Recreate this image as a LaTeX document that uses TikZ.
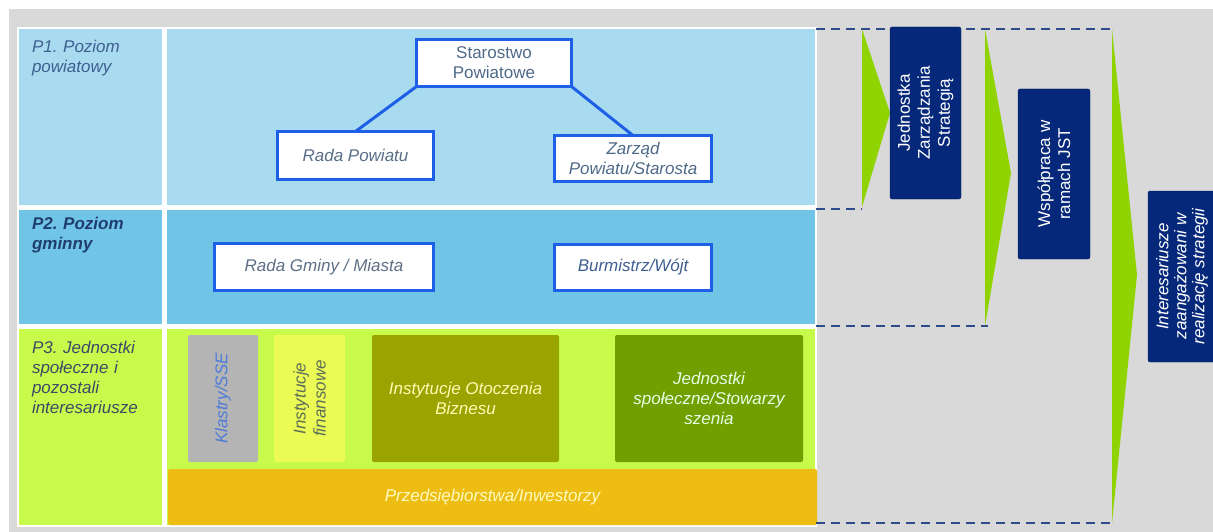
\documentclass[tikz,border=0pt]{standalone}
\usepackage{fontspec}
\setmainfont{Liberation Sans}
\usetikzlibrary{positioning}
\frenchspacing
\newcommand{\dfont}{\fontsize{17}{20}\selectfont}
\definecolor{bggray}{HTML}{D9D9D9}
\definecolor{pone}{HTML}{A9DBF0}
\definecolor{ptwo}{HTML}{70C5E6}
\definecolor{pthree}{HTML}{C8FA4B}
\definecolor{klgray}{HTML}{B4B4B4}
\definecolor{finyellow}{HTML}{EBFA55}
\definecolor{olivebox}{HTML}{99A400}
\definecolor{greenbox}{HTML}{70A000}
\definecolor{orangebar}{HTML}{EDBD13}
\definecolor{navy}{HTML}{06287A}
\definecolor{arrowgreen}{HTML}{8FD400}
\definecolor{dashblue}{HTML}{2D4A8A}
\definecolor{boxblue}{HTML}{1E5FE8}
\definecolor{txtgray}{HTML}{4F6A88}
\definecolor{lbltext}{HTML}{3F5F90}
\definecolor{lbltwo}{HTML}{1F3D6E}
\definecolor{lblthree}{HTML}{3C4A66}
\definecolor{kltext}{HTML}{4C7BD8}
\definecolor{fintext}{HTML}{5C6E58}
\begin{document}
\begin{tikzpicture}[x=1pt, y=-1pt,
        every node/.style={font=\dfont, inner sep=0pt, outer sep=0pt},
        bx/.style={draw=boxblue, line width=3pt, fill=white, align=center, text=txtgray},
        blk/.style={rounded corners=2pt, align=center, font=\dfont\itshape},
        nv/.style={fill=navy, draw=navy!80!black, rounded corners=2pt, text=white, align=center, rotate=90},
        lbl/.style={anchor=north west, text width=128pt, align=left, font=\dfont\itshape, text=lbltext},
        e/.style={draw=boxblue, line width=3pt},
        ds/.style={draw=dashblue, line width=2.5pt, dash pattern=on 9pt off 6pt}]
        \useasboundingbox (0,0) rectangle (1213,532);
        \clip (0,0) rectangle (1213,532);
        \fill[white] (0,0) rectangle (1213,532);
        \fill[bggray] (9,9) rectangle (1213,532);
        \fill[white] (17,27) rectangle (817,527);

        \foreach \t/\b/\c in {29/205/pone, 210/324/ptwo, 329/525/pthree}
        {\fill[\c] (19,\t) rectangle (162,\b); \fill[\c] (167,\t) rectangle (815,\b);}

        \node[lbl] (l1) at (32,40) {P1. Poziom\\powiatowy};
        \node[lbl, font=\dfont\bfseries\itshape, text=lbltwo] (l2) at (32,217) {P2. Poziom\\gminny};
        \node[lbl, text=lblthree] (l3) at (32,341) {P3. Jednostki\\społeczne i\\pozostali\\interesariusze};

        \node[bx, minimum width=155pt, minimum height=47pt] (star) at (494,63) {Starostwo\\Powiatowe};
        \node[bx, font=\dfont\itshape, text=txtgray!80!gray, minimum width=156pt, minimum height=48pt] (rada) at (355.5,155.5) {Rada Powiatu};
        \node[bx, font=\dfont\itshape, minimum width=157pt, minimum height=46pt] (zarzad) at (633,158.5) {Zarząd\\Powiatu/Starosta};
        \draw[e] (star.south west) -- (rada.north);
        \draw[e] (star.south east) -- (zarzad.north);

        \node[bx, font=\dfont\itshape, text=txtgray!70!gray, minimum width=219pt, minimum height=47pt] (gmina) at (324,267) {Rada Gminy / Miasta};
        \node[bx, font=\dfont\itshape, text=lbltext, minimum width=157pt, minimum height=46pt] (burm) at (633,267.5) {Burmistrz/Wójt};

        \node[blk, fill=klgray, text=kltext, rotate=90, minimum width=127pt, minimum height=70pt] (klastry) at (223,398.5) {Klastry/SSE};
        \node[blk, fill=finyellow, text=fintext, rotate=90, minimum width=127pt, minimum height=71pt] (finanse) at (309.5,398.5) {Instytucje\\finansowe};
        \node[blk, fill=olivebox, text=yellow!30!white, minimum width=187pt, minimum height=127pt] (otoczenie) at (465.5,398.5) {Instytucje Otoczenia\\Biznesu};
        \node[blk, fill=greenbox, text=white!90!green, minimum width=188pt, minimum height=127pt] (jednostki) at (709,398.5) {Jednostki\\społeczne/Stowarzy\\szenia};
        \node[blk, fill=orangebar, text=yellow!25!white, minimum width=649pt, minimum height=56pt] (firmy) at (492.5,497) {Przedsiębiorstwa/Inwestorzy};

        \draw[ds] (816,29) -- (1113,29);
        \draw[ds] (816,209) -- (862,209);
        \draw[ds] (816,326) -- (988,326);
        \draw[ds] (816,523) -- (1113,523);

        \fill[arrowgreen] (862,29) -- (890,113) -- (862,207) -- cycle;
        \fill[arrowgreen] (985,29) -- (1011,173) -- (985,326) -- cycle;
        \fill[arrowgreen] (1112,29) -- (1137,275) -- (1112,523) -- cycle;

        \node[nv, minimum width=172pt, minimum height=71pt] (jzs) at (925.5,113) {Jednostka\\Zarządzania\\Strategią};
        \node[nv, minimum width=170pt, minimum height=72pt] (wspolpraca) at (1054,174) {Współpraca w\\ramach JST};
        \node[nv, font=\fontsize{17}{18}\selectfont\itshape, minimum width=171pt, minimum height=68pt] (inter) at (1182,276.5) {Interesariusze\\zaangażowani w\\realizację strategii};
      \end{tikzpicture}
\end{document}
